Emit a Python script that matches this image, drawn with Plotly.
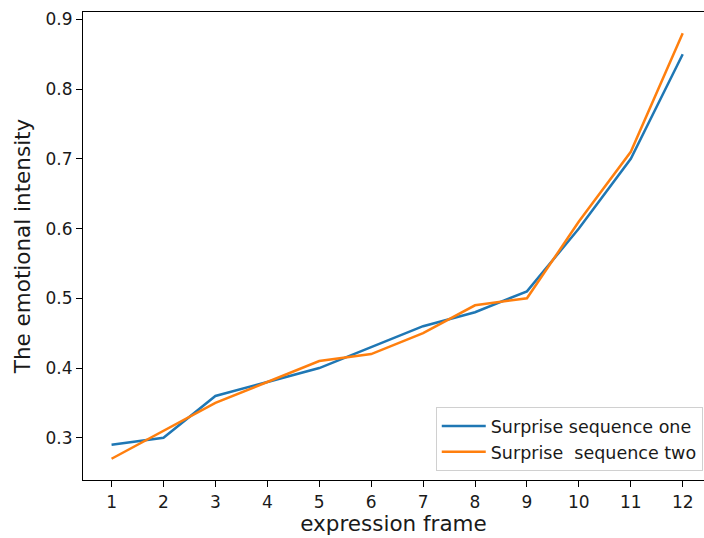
import plotly.graph_objects as go

frames = list(range(1, 13))
seq_one = [0.29, 0.30, 0.36, 0.38, 0.40, 0.43, 0.46, 0.48, 0.51, 0.60, 0.70, 0.85]
seq_two = [0.27, 0.31, 0.35, 0.38, 0.41, 0.42, 0.45, 0.49, 0.50, 0.61, 0.71, 0.88]
name_one = "Surprise sequence one"
name_two = "Surprise\u00a0\u00a0sequence two"
y_ticks = [0.3, 0.4, 0.5, 0.6, 0.7, 0.8, 0.9]

font = "DejaVu Sans, sans-serif"

fig = go.Figure()
fig.add_trace(go.Scatter(x=frames, y=seq_one, mode="lines", name=name_one,
                         line=dict(color="#1f77b4", width=2.5)))
fig.add_trace(go.Scatter(x=frames, y=seq_two, mode="lines", name=name_two,
                         line=dict(color="#ff7f0e", width=2.5)))

fig.update_layout(
    width=704, height=538,
    margin=dict(l=83, r=0, t=12, b=58),
    paper_bgcolor="white", plot_bgcolor="white",
    font=dict(family=font, size=17, color="#1a1a1a"),
    showlegend=True,
    legend=dict(x=0.998, y=0.019, xanchor="right", yanchor="bottom",
                bgcolor="rgba(255,255,255,0.8)", bordercolor="#d0d0d0", borderwidth=1,
                font=dict(size=17.5), tracegroupgap=0, itemwidth=44),
)
fig.update_xaxes(
    range=[0.45, 12.41], tickmode="array", tickvals=frames,
    ticks="outside", ticklen=6, tickwidth=1.2, tickcolor="black",
    showline=True, linecolor="black", linewidth=1.2, mirror=True,
    showgrid=False, zeroline=False,
    title=dict(text="expression frame", font=dict(size=21.5), standoff=4),
)
fig.update_yaxes(
    range=[0.2395, 0.9105], tickmode="array", tickvals=y_ticks,
    ticktext=[f"{v:.1f}" for v in y_ticks],
    ticks="outside", ticklen=6, tickwidth=1.2, tickcolor="black",
    showline=True, linecolor="black", linewidth=1.2, mirror=False,
    showgrid=False, zeroline=False,
    title=dict(text="The emotional intensity", font=dict(size=21.5), standoff=8),
)

fig.write_html("out.html")
